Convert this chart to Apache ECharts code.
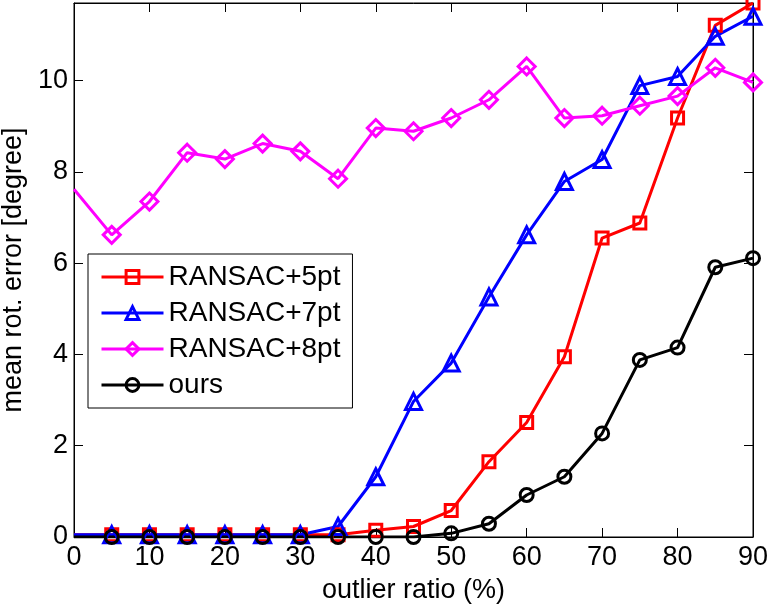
<!DOCTYPE html>
<html>
<head>
<meta charset="utf-8">
<script src="https://cdn.jsdelivr.net/npm/echarts@6/dist/echarts.min.js"></script>
<style>
  html, body { margin: 0; padding: 0; background: #fff; }
  #chart { width: 769px; height: 607px; }
</style>
</head>
<body>
<div id="chart"></div>
<script>
// outlier ratio (%)
const ratios = [0, 5, 10, 15, 20, 25, 30, 35, 40, 45, 50, 55, 60, 65, 70, 75, 80, 85, 90];
const ransac5 = [0.05, 0.05, 0.05, 0.05, 0.05, 0.05, 0.05, 0.05, 0.15, 0.23, 0.58, 1.65, 2.51, 3.95, 6.55, 6.88, 9.18, 11.21, 11.7];
const ransac7 = [0.05, 0.05, 0.05, 0.05, 0.05, 0.05, 0.05, 0.23, 1.32, 2.97, 3.81, 5.26, 6.62, 7.79, 8.27, 9.89, 10.09, 10.97, 11.41];
const ransac8 = [7.62, 6.62, 7.35, 8.42, 8.28, 8.62, 8.45, 7.85, 8.96, 8.89, 9.18, 9.58, 10.31, 9.18, 9.23, 9.45, 9.66, 10.28, 9.96];
const ours = [0, 0, 0, 0, 0, 0, 0, 0, 0, 0, 0.08, 0.29, 0.92, 1.32, 2.27, 3.88, 4.15, 5.91, 6.11];
const xTicks = [0, 10, 20, 30, 40, 50, 60, 70, 80, 90];
const yTicks = [0, 2, 4, 6, 8, 10];

const font = "Liberation Sans";

function makeSeries(name, values, color, symbol, size) {
  return {
    name: name,
    type: "line",
    symbol: symbol,
    symbolSize: size,
    lineStyle: { color: color, width: 3 },
    itemStyle: { color: "rgba(255,255,255,0)", borderColor: color, borderWidth: 3 },
    emphasis: { disabled: true },
    data: values.map((v, i) => i === 0 ? { value: [ratios[i], v], symbol: "none" } : [ratios[i], v])
  };
}

// frame axes (top / right) only carry inward ticks
function frameAxis(extra) {
  return Object.assign({
    type: "value",
    axisLine: { show: true, onZero: false, lineStyle: { color: "#000", width: 1 } },
    axisTick: { show: true, inside: true, length: 9, lineStyle: { color: "#000" } },
    axisLabel: { show: false },
    splitLine: { show: false }
  }, extra);
}

const chart = echarts.init(document.getElementById("chart"));
chart.setOption({
  animation: false,
  textStyle: { fontFamily: font },
  grid: { left: 74, right: 16, top: 3, bottom: 70, outerBoundsMode: "none",
    show: true, borderColor: "#000", borderWidth: 1 },
  legend: {
    orient: "vertical",
    left: 88,
    top: 254,
    padding: [8, 12, 8, 12],
    itemGap: 6,
    itemWidth: 62,
    itemHeight: 16,
    borderColor: "#000",
    borderWidth: 1,
    backgroundColor: "#fff",
    lineStyle: { width: 3 },
    itemStyle: { borderWidth: 3 },
    textStyle: { fontFamily: font, fontSize: 28, color: "#000", lineHeight: 30 },
    data: ["RANSAC+5pt", "RANSAC+7pt", "RANSAC+8pt", "ours"]
  },
  xAxis: [{
    type: "value",
    position: "bottom",
    min: 0,
    max: 90,
    interval: 10,
    name: "outlier ratio (%)",
    nameLocation: "middle",
    nameGap: 40,
    nameTextStyle: { fontFamily: font, fontSize: 27, color: "#000" },
    axisLine: { onZero: false, lineStyle: { color: "#000", width: 1 } },
    axisTick: { inside: true, length: 9, lineStyle: { color: "#000" } },
    axisLabel: { fontFamily: font, fontSize: 27, color: "#000", margin: 7,
      formatter: v => xTicks.includes(v) ? String(v) : "" },
    splitLine: { show: false }
  }, frameAxis({ position: "top", min: 0, max: 90, interval: 10 })],
  yAxis: [{
    type: "value",
    position: "left",
    min: 0,
    max: 11.7,
    interval: 2,
    name: "mean rot. error [degree]",
    nameLocation: "middle",
    nameGap: 43,
    nameTextStyle: { fontFamily: font, fontSize: 27, color: "#000" },
    axisLine: { show: true, onZero: false, lineStyle: { color: "#000", width: 1 } },
    axisTick: { show: true, inside: true, length: 9, lineStyle: { color: "#000" } },
    axisLabel: { fontFamily: font, fontSize: 27, color: "#000", margin: 6,
      formatter: v => yTicks.includes(v) ? String(v) : "" },
    splitLine: { show: false }
  }, frameAxis({ position: "right", min: 0, max: 11.7, interval: 2 })],
  series: [
    makeSeries("RANSAC+5pt", ransac5, "#ff0000", "rect", 12),
    makeSeries("RANSAC+7pt", ransac7, "#0000ff", "triangle", 16),
    makeSeries("RANSAC+8pt", ransac8, "#ff00ff", "diamond", 17),
    makeSeries("ours", ours, "#000000", "circle", 13)
  ]
});
</script>
</body>
</html>
